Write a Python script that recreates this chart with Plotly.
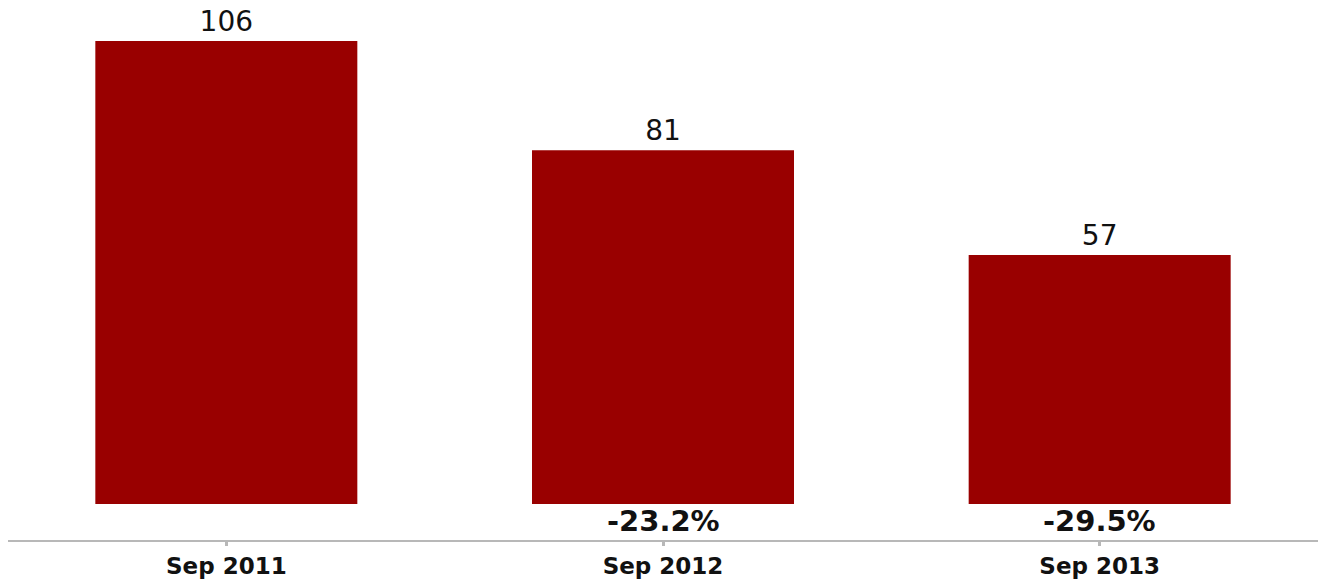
import plotly.graph_objects as go

# Monthly totals by period
periods = ["Sep 2011", "Sep 2012", "Sep 2013"]
values = [106, 81, 57]
# Year-over-year change shown beneath each bar
changes = ["", "-23.2%", "-29.5%"]

BAR_COLOR = "#990000"

fig = go.Figure()
fig.add_trace(go.Bar(
    x=periods,
    y=values,
    width=0.6,
    marker=dict(color=BAR_COLOR, line=dict(width=0)),
    text=[str(v) for v in values],
    textposition="outside",
    textfont=dict(family="DejaVu Sans", size=28, color="#111111"),
    cliponaxis=False,
    hoverinfo="skip",
))

for p, c in zip(periods, changes):
    if c:
        fig.add_annotation(
            x=p, y=0, xref="x", yref="y",
            text=f"<b>{c}</b>",
            showarrow=False,
            yanchor="top",
            yshift=2,
            font=dict(family="DejaVu Sans", size=29, color="#111111"),
        )

fig.update_layout(
    width=1318, height=582,
    margin=dict(l=8, r=0, t=0, b=42),
    paper_bgcolor="white",
    plot_bgcolor="white",
    showlegend=False,
    bargap=0.4,
    xaxis=dict(
        type="category",
        range=[-0.5, 2.5],
        automargin=False,
        showline=True,
        linecolor="#b8b8b8",
        linewidth=2,
        ticks="outside",
        ticklen=4,
        tickwidth=3,
        tickcolor="#b8b8b8",
        showgrid=False,
        tickfont=dict(family="DejaVu Sans", size=23, color="#111111"),
        ticklabelstandoff=0,
        tickprefix="<b>",
        ticksuffix="</b>",
        fixedrange=True,
    ),
    yaxis=dict(
        range=[-8.24, 115.4],
        visible=False,
        automargin=False,
        showgrid=False,
        zeroline=False,
        fixedrange=True,
    ),
)

fig.write_html("out.html")
